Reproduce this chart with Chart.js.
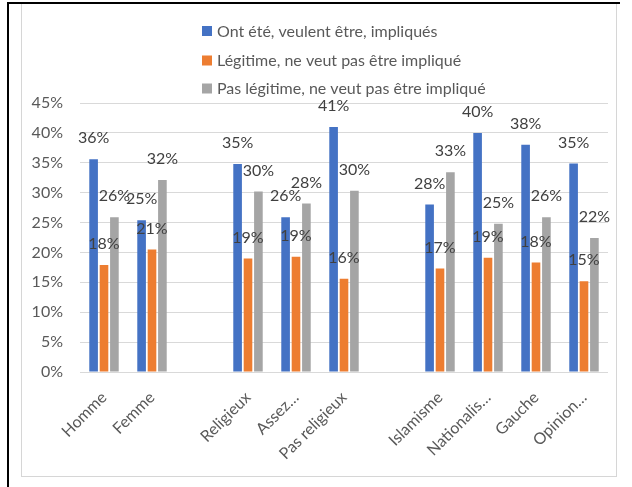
<!DOCTYPE html>
<html>
<head>
<meta charset="utf-8">
<script src="https://cdn.jsdelivr.net/npm/chart.js@4.4.1/dist/chart.umd.min.js"></script>
<style>
  body { margin: 0; background: #fff; }
  #frame { position: absolute; left: 7px; top: 2px; width: 611px; height: 485px; border-top: 2px solid #000; border-left: 2px solid #000; z-index: 2; }
  #box { position: absolute; left: 21px; top: 3px; width: 594px; height: 472px; border: 1px solid #d6d6d6; background: #fff; }
  canvas { display: block; }
</style>
</head>
<body>
<div id="frame"></div>
<div id="box"><canvas id="chart" width="594" height="472"></canvas></div>
<script>
  // groupes : sexe / religiosité / orientation, séparés par une colonne vide
  var categories = ['Homme', 'Femme', '', 'Religieux', 'Assez…', 'Pas religieux', '', 'Islamisme', 'Nationalis…', 'Gauche', 'Opinion…'];

  var seriesNames = [
    'Ont été, veulent être, impliqués',
    'Légitime, ne veut pas être impliqué',
    'Pas légitime, ne veut pas être impliqué'
  ];

  var impliques    = [35.6, 25.4, null, 34.8, 25.9, 41.0, null, 28.0, 40.0, 38.0, 34.9];
  var legitime     = [17.9, 20.5, null, 19.0, 19.3, 15.6, null, 17.3, 19.1, 18.3, 15.2];
  var pasLegitime  = [25.9, 32.1, null, 30.2, 28.2, 30.3, null, 33.4, 24.8, 25.9, 22.4];

  var yTicks = [0, 5, 10, 15, 20, 25, 30, 35, 40, 45];

  var colors = ['#4472C4', '#ED7D31', '#A5A5A5'];
  var fontName = 'Lato';
  var fontSize = 16;

  // étiquettes de valeur au-dessus de chaque barre
  var valueLabels = {
    id: 'valueLabels',
    afterDatasetsDraw: function(chart) {
      var ctx = chart.ctx;
      ctx.save();
      ctx.font = fontSize + 'px ' + fontName;
      ctx.fillStyle = '#404040';
      ctx.textAlign = 'center';
      ctx.textBaseline = 'middle';
      chart.data.datasets.forEach(function(ds, i) {
        var meta = chart.getDatasetMeta(i);
        meta.data.forEach(function(bar, j) {
          var v = ds.data[j];
          if (v === null) return;
          ctx.fillText(Math.round(v) + '%', bar.x, bar.y - 21);
        });
      });
      ctx.restore();
    }
  };

  // légende en colonne, centrée sur la zone de tracé
  var columnLegend = {
    id: 'columnLegend',
    afterDraw: function(chart) {
      var ctx = chart.ctx;
      var area = chart.chartArea;
      var rows = [27, 56.5, 84.5];
      var box = 10, gap = 5;
      ctx.save();
      ctx.font = fontSize + 'px ' + fontName;
      ctx.textBaseline = 'middle';
      ctx.textAlign = 'left';
      var widest = 0;
      chart.data.datasets.forEach(function(ds) {
        widest = Math.max(widest, ctx.measureText(ds.label).width);
      });
      var left = Math.round((area.left + area.right - (box + gap + widest)) / 2);
      chart.data.datasets.forEach(function(ds, i) {
        ctx.fillStyle = ds.backgroundColor;
        ctx.fillRect(left, rows[i] - box / 2, box, box);
        ctx.fillStyle = '#595959';
        ctx.fillText(ds.label, left + box + gap, rows[i] + 0.5);
      });
      ctx.restore();
    }
  };

  var ctx = document.getElementById('chart').getContext('2d');
  var chart = new Chart(ctx, {
    type: 'bar',
    data: {
      labels: categories,
      datasets: [
        { label: seriesNames[0], data: impliques, backgroundColor: colors[0] },
        { label: seriesNames[1], data: legitime, backgroundColor: colors[1] },
        { label: seriesNames[2], data: pasLegitime, backgroundColor: colors[2] }
      ]
    },
    options: {
      responsive: false,
      animation: false,
      layout: { padding: { top: 99, right: 8, left: 0, bottom: 0 } },
      datasets: {
        bar: { categoryPercentage: 0.65, barPercentage: 0.83 }
      },
      scales: {
        x: {
          grid: { display: false },
          border: { display: false },
          ticks: {
            color: '#595959',
            font: { family: fontName, size: fontSize },
            minRotation: 45,
            maxRotation: 45,
            autoSkip: false,
            padding: 8
          },
          afterFit: function(scale) { scale.height = 104; }
        },
        y: {
          min: 0,
          max: 45,
          afterBuildTicks: function(scale) {
            scale.ticks = yTicks.map(function(v) { return { value: v }; });
          },
          grid: { color: '#d9d9d9', drawTicks: false },
          border: { display: false },
          ticks: {
            color: '#595959',
            font: { family: fontName, size: fontSize },
            padding: 17,
            callback: function(v) { return v + '%'; }
          },
          afterFit: function(scale) { scale.width = 58; }
        }
      },
      plugins: {
        legend: { display: false },
        tooltip: { enabled: false }
      }
    },
    plugins: [valueLabels, columnLegend]
  });
</script>
</body>
</html>
